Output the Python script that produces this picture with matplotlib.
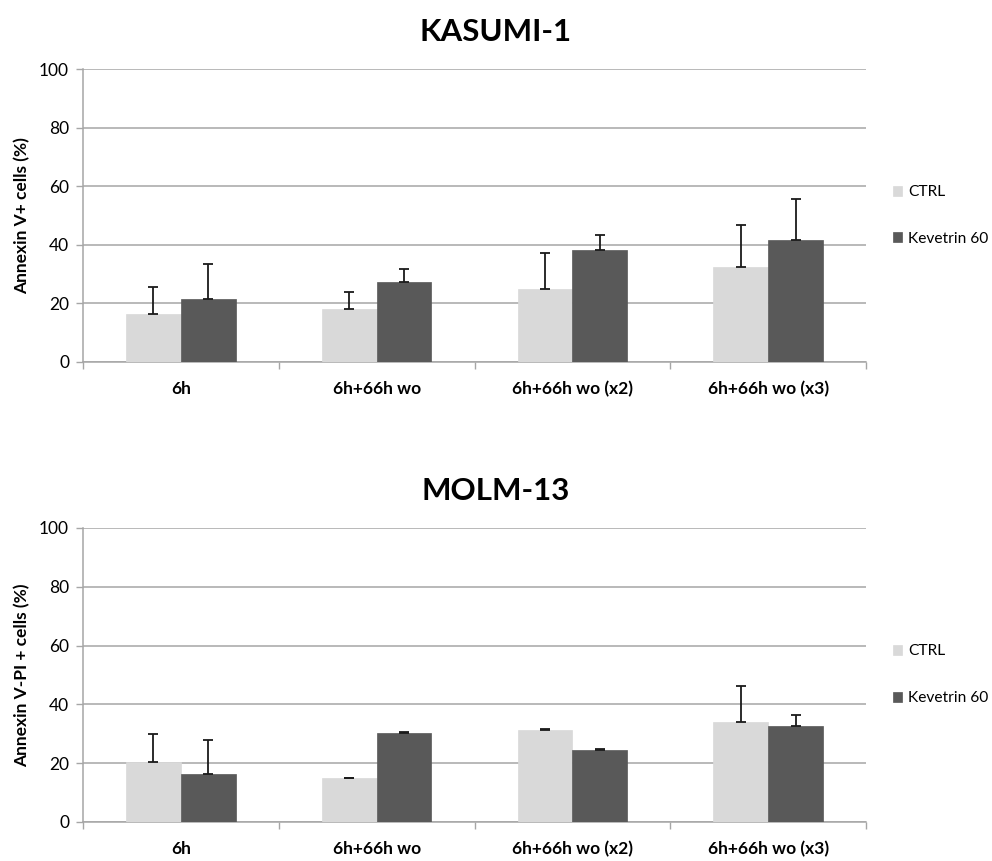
import numpy as np
import matplotlib.pyplot as plt

plt.rcParams['font.family'] = ['Lato', 'DejaVu Sans']

# -----------------------------------------------------------------------------
# Data (mean % of cells, upper error only)
categories = ['6h', '6h+66h wo', '6h+66h wo (x2)', '6h+66h wo (x3)']
series = ['CTRL', 'Kevetrin 60']

kasumi_ctrl = [16.3, 18.1, 24.8, 32.4]
kasumi_ctrl_err = [9.4, 5.9, 12.4, 14.4]
kasumi_kev = [21.4, 27.2, 38.3, 41.8]
kasumi_kev_err = [11.9, 4.4, 4.9, 13.9]

molm_ctrl = [20.5, 14.9, 31.4, 34.1]
molm_ctrl_err = [9.4, 0.2, 0.2, 12.0]
molm_kev = [16.4, 30.4, 24.5, 32.5]
molm_kev_err = [11.4, 0.2, 0.3, 4.0]

colors = ['#d9d9d9', '#595959']
grid_c = '#a6a6a6'


def draw_panel(ax, title, ylabel, ctrl, ctrl_err, kev, kev_err):
    x = np.arange(len(categories))
    w = 0.28
    for vals, errs, off, col, lab in [(ctrl, ctrl_err, -w / 2, colors[0], series[0]),
                                      (kev, kev_err, w / 2, colors[1], series[1])]:
        ax.bar(x + off, vals, width=w, color=col, edgecolor=col, linewidth=0.5,
               label=lab, zorder=3)
        ax.errorbar(x + off, vals, yerr=[np.zeros(len(errs)), errs], fmt='none',
                    ecolor='#1a1a1a', elinewidth=1.3, capsize=3.5, capthick=1.3,
                    zorder=4)

    ax.set_xlim(-0.5, len(categories) - 0.5)
    ax.set_ylim(0, 100)
    ax.set_yticks(np.arange(0, 101, 20))
    ax.set_xticks(x)
    ax.set_xticklabels(categories, fontsize=12.5, fontweight='bold')
    ax.set_xticks(np.arange(len(categories) + 1) - 0.5, minor=True)
    ax.tick_params(axis='x', which='major', length=0, pad=14)
    ax.tick_params(axis='x', which='minor', length=5, color=grid_c, width=1)
    ax.tick_params(axis='y', length=5, color=grid_c, width=1, labelsize=12.5, pad=5)
    ax.yaxis.grid(True, color=grid_c, linewidth=1.1, zorder=0)
    ax.set_axisbelow(True)
    for s in ['top', 'right']:
        ax.spines[s].set_visible(False)
    for s in ['left', 'bottom']:
        ax.spines[s].set_color(grid_c)
        ax.spines[s].set_linewidth(1.1)

    ax.set_title(title, fontsize=22.5, fontweight='bold', pad=20, x=0.527)
    ax.set_ylabel(ylabel, fontsize=12.5, fontweight='bold', labelpad=6)
    ax.legend(loc='upper left', bbox_to_anchor=(1.026, 0.625), frameon=False,
              fontsize=11.2, handlelength=0.6, handleheight=0.6,
              handletextpad=0.4, labelspacing=2.1, borderaxespad=0)


fig = plt.figure(figsize=(9.92, 8.61), dpi=100)
ax1 = fig.add_axes([83 / 992, 1 - 362 / 861, 783 / 992, 293 / 861])
ax2 = fig.add_axes([83 / 992, 1 - 822 / 861, 783 / 992, 294 / 861])

draw_panel(ax1, 'KASUMI-1', 'Annexin V+ cells (%)',
           kasumi_ctrl, kasumi_ctrl_err, kasumi_kev, kasumi_kev_err)
draw_panel(ax2, 'MOLM-13', 'Annexin V-PI + cells (%)',
           molm_ctrl, molm_ctrl_err, molm_kev, molm_kev_err)

plt.savefig('out.png', dpi=100)
